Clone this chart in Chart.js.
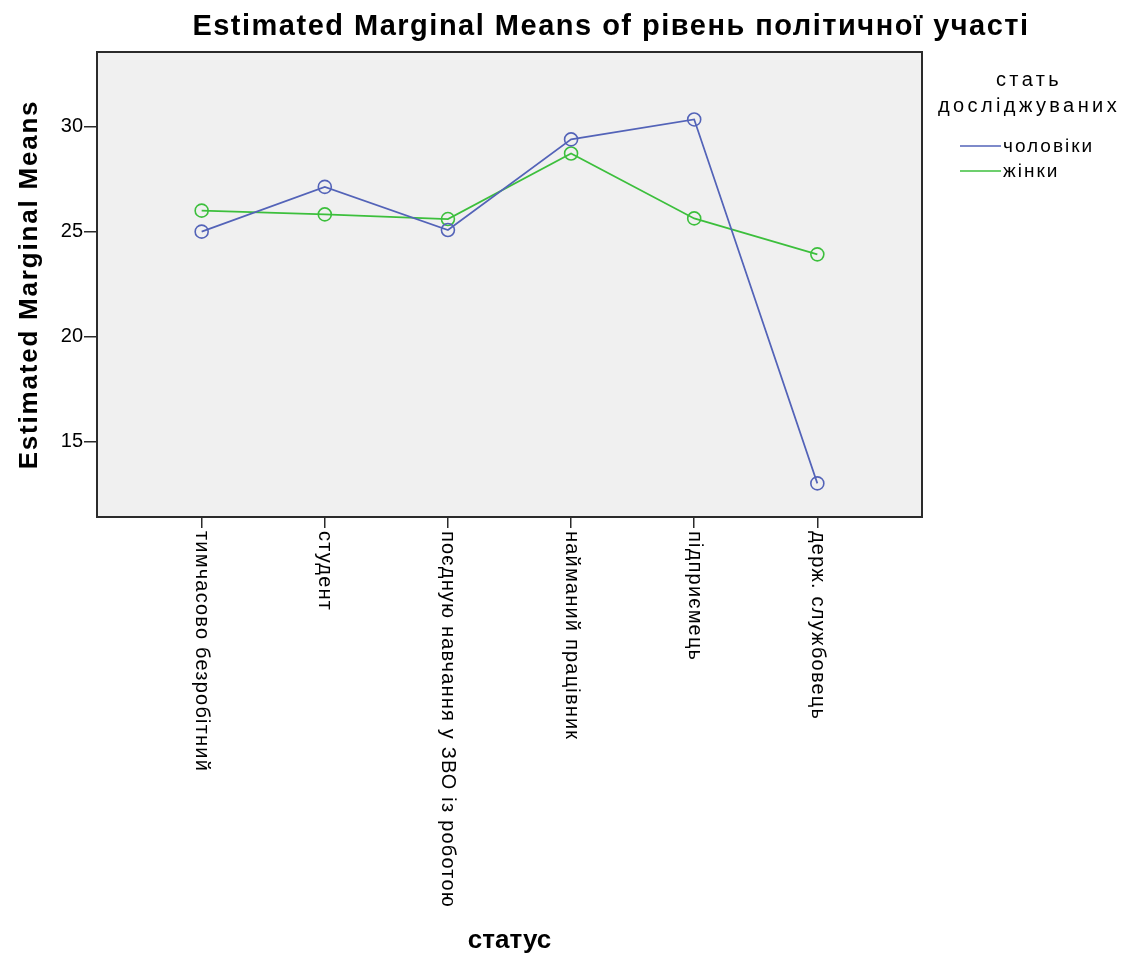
<!DOCTYPE html>
<html>
<head>
<meta charset="utf-8">
<script src="https://cdn.jsdelivr.net/npm/chart.js@4/dist/chart.umd.min.js"></script>
<style>
  body { margin: 0; background: #fff; }
</style>
</head>
<body>
<canvas id="emmChart" width="1126" height="956"></canvas>
<script>
// --- data ---
const categories = [
  "тимчасово безробітний",
  "студент",
  "поєдную навчання у ЗВО із роботою",
  "найманий працівник",
  "підприємець",
  "держ. службовець"
];
const menValues = [25.0, 27.13, 25.08, 29.39, 30.34, 13.02];
const womenValues = [26.0, 25.82, 25.6, 28.72, 25.63, 23.92];
const yTicks = [15, 20, 25, 30];
const seriesNames = ["чоловіки", "жінки"];

const blue = "#5363b8";
const green = "#3cbf3c";
const FONT = "'Liberation Sans', Arial, sans-serif";

function spacing(ctx, px) {
  if ("letterSpacing" in ctx) ctx.letterSpacing = px + "px";
}

// background, frame, rotated x labels, titles and legend
const spssDecor = {
  id: "spssDecor",
  beforeDraw(chart) {
    const { ctx, chartArea: a } = chart;
    ctx.save();
    ctx.fillStyle = "#f0f0f0";
    ctx.fillRect(a.left, a.top, a.right - a.left, a.bottom - a.top);
    ctx.restore();
  },
  afterDraw(chart) {
    const { ctx, chartArea: a } = chart;
    ctx.save();
    ctx.strokeStyle = "#2b2b2b";
    ctx.lineWidth = 2;
    ctx.strokeRect(a.left, a.top, a.right - a.left, a.bottom - a.top);

    // x labels, reading top to bottom
    const xs = chart.scales.x;
    ctx.fillStyle = "#000";
    ctx.font = "20px " + FONT;
    ctx.textAlign = "left";
    ctx.textBaseline = "middle";
    spacing(ctx, 1.2);
    xs.ticks.forEach(t => {
      const x = xs.getPixelForValue(t.value);
      ctx.save();
      ctx.translate(x, a.bottom + 14);
      ctx.rotate(Math.PI / 2);
      ctx.fillText(categories[t.value], 0, 0);
      ctx.restore();
    });

    // y axis title
    ctx.save();
    ctx.font = "bold 26px " + FONT;
    ctx.textAlign = "center";
    spacing(ctx, 1.8);
    ctx.translate(30, (a.top + a.bottom) / 2);
    ctx.rotate(-Math.PI / 2);
    ctx.fillText("Estimated Marginal Means", 0, 0);
    ctx.restore();

    // main title
    ctx.font = "bold 29px " + FONT;
    ctx.textAlign = "center";
    spacing(ctx, 1.5);
    ctx.fillText("Estimated Marginal Means of рівень політичної участі", 611, 27);

    // legend
    spacing(ctx, 3.4);
    ctx.font = "20px " + FONT;
    ctx.fillText("стать", 1029, 80);
    ctx.fillText("досліджуваних", 1029, 106);
    const colors = [blue, green];
    const rows = [146, 171];
    ctx.textAlign = "left";
    spacing(ctx, 2);
    ctx.font = "19px " + FONT;
    seriesNames.forEach((name, i) => {
      ctx.strokeStyle = colors[i];
      ctx.lineWidth = 1.5;
      ctx.beginPath();
      ctx.moveTo(960, rows[i]);
      ctx.lineTo(1001, rows[i]);
      ctx.stroke();
      ctx.fillText(name, 1003, rows[i] + 1);
    });
    ctx.restore();
  }
};

const toPoints = vals => vals.map((v, i) => ({ x: i, y: v }));

new Chart(document.getElementById("emmChart"), {
  type: "line",
  data: {
    datasets: [
      {
        label: seriesNames[0],
        data: toPoints(menValues),
        borderColor: blue,
        borderWidth: 1.7,
        pointRadius: 6.5,
        pointBorderWidth: 1.6,
        pointBackgroundColor: "rgba(0,0,0,0)",
        pointBorderColor: blue,
        tension: 0,
        fill: false
      },
      {
        label: seriesNames[1],
        data: toPoints(womenValues),
        borderColor: green,
        borderWidth: 1.7,
        pointRadius: 6.5,
        pointBorderWidth: 1.6,
        pointBackgroundColor: "rgba(0,0,0,0)",
        pointBorderColor: green,
        tension: 0,
        fill: false
      }
    ]
  },
  options: {
    responsive: false,
    animation: false,
    layout: { padding: { top: 52, right: 204, left: 0, bottom: 0 } },
    plugins: {
      legend: { display: false },
      tooltip: { enabled: false }
    },
    scales: {
      x: {
        type: "linear",
        min: -0.85,
        max: 5.85,
        afterBuildTicks: s => { s.ticks = categories.map((c, i) => ({ value: i })); },
        afterFit: s => { s.height = 439; },
        ticks: { display: false },
        grid: { drawOnChartArea: false, tickLength: 11, color: "#2b2b2b", lineWidth: 1.5 },
        border: { display: false },
        title: {
          display: true,
          text: "статус",
          color: "#000",
          font: { family: FONT, size: 26, weight: "bold" },
          padding: { top: 0, bottom: 0 }
        }
      },
      y: {
        min: 11.42,
        max: 33.55,
        afterBuildTicks: s => { s.ticks = yTicks.map(v => ({ value: v })); },
        afterFit: s => { s.width = 97; },
        ticks: { color: "#000", font: { family: FONT, size: 20 }, padding: 1 },
        grid: { drawOnChartArea: false, tickLength: 13, color: "#2b2b2b", lineWidth: 1.5 },
        border: { display: false }
      }
    }
  },
  plugins: [spssDecor]
});
</script>
</body>
</html>
